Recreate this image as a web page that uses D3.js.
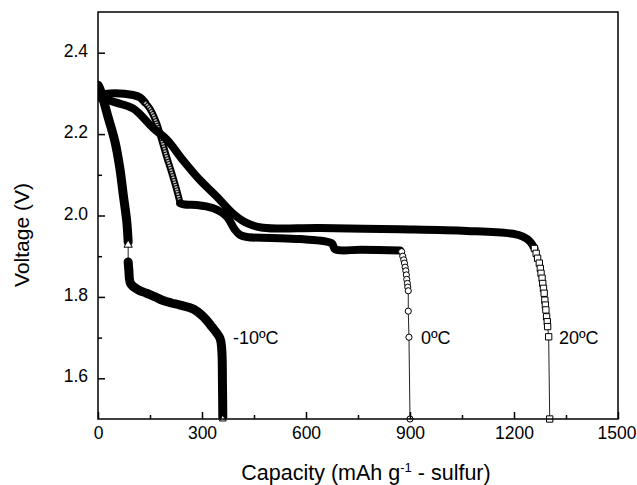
<!DOCTYPE html>
<html><head><meta charset="utf-8">
<script src="https://cdn.jsdelivr.net/npm/d3@7"></script>
<style>
html,body{margin:0;padding:0;background:#fff;}
text{font-family:"Liberation Sans",Arial,Helvetica,sans-serif;fill:#000;}
</style></head>
<body><svg id="c" width="637" height="485"></svg>
<script>
// ---- data ----
const xTicks = [0, 300, 600, 900, 1200, 1500];
const xMinor = [150, 450, 750, 1050, 1350];
const yTicks = [1.6, 1.8, 2.0, 2.2, 2.4];
const yMinor = [1.7, 1.9, 2.1, 2.3];
const seriesNames = ["-10ºC", "0ºC", "20ºC"];

// -10 ºC (triangles)
const capM10a  = [0, 6, 30, 49, 63, 73, 83, 87];
const voltM10a = [2.32, 2.31, 2.239, 2.181, 2.116, 2.05, 1.985, 1.935];
const capM10b  = [87, 89, 94, 115, 140, 165, 188, 212, 237, 275, 304, 328, 352, 357, 359, 360];
const voltM10b = [1.886, 1.866, 1.833, 1.818, 1.809, 1.800, 1.791, 1.785, 1.780, 1.770, 1.751, 1.727, 1.698, 1.670, 1.588, 1.505];
const capM10m  = [87, 360];
const voltM10m = [1.928, 1.5];

// 0 ºC (circles)
const cap0a  = [0, 35, 101, 121, 135];
const volt0a = [2.295, 2.300, 2.296, 2.290, 2.278];
const cap0b  = [135, 150, 169, 184, 198, 213, 227, 237];
const volt0b = [2.278, 2.262, 2.227, 2.185, 2.144, 2.104, 2.063, 2.030];
const cap0c  = [237, 250, 285, 333, 352, 372, 395, 410, 430, 500, 583, 674, 684, 760, 871];
const volt0c = [2.030, 2.027, 2.026, 2.018, 2.010, 1.997, 1.965, 1.952, 1.947, 1.945, 1.942, 1.932, 1.917, 1.916, 1.914];
const cap0m  = [876, 879, 882, 884, 886, 888, 889.5, 890.6, 892.5, 893.5, 895, 895, 897, 900];
const volt0m = [1.911, 1.900, 1.891, 1.883, 1.873, 1.864, 1.854, 1.843, 1.833, 1.824, 1.815, 1.765, 1.701, 1.5];

// 20 ºC (squares)
const cap20a  = [0, 50, 101, 159, 199, 245, 294, 343, 389, 430, 476, 640, 871, 1064, 1197, 1226, 1246, 1259];
const volt20a = [2.290, 2.278, 2.263, 2.215, 2.186, 2.136, 2.087, 2.046, 2.005, 1.981, 1.970, 1.969, 1.966, 1.962, 1.955, 1.948, 1.936, 1.919];
const cap20m  = [1259, 1264, 1268, 1273, 1276, 1278, 1281, 1283, 1285, 1287, 1289, 1290.5, 1292, 1294, 1296, 1297, 1300, 1303];
const volt20m = [1.919, 1.907, 1.895, 1.883, 1.870, 1.858, 1.846, 1.833, 1.821, 1.809, 1.792, 1.780, 1.768, 1.751, 1.739, 1.727, 1.702, 1.5];

// ---- chart ----
const svg = d3.select("#c");
const L = 98, R = 618, T = 12, B = 419;
const x = d3.scaleLinear().domain([0, 1500]).range([L, R]);
const y = d3.scaleLinear().domain([1.5, 2.5]).range([B, T]);
const zip = (a, b) => a.map((v, i) => [v, b[i]]);

svg.append("defs").append("clipPath").attr("id", "pc")
  .append("rect").attr("x", L).attr("y", T - 2).attr("width", R - L).attr("height", B - T + 2);

const band = d3.line().x(d => x(d[0])).y(d => y(d[1])).curve(d3.curveCatmullRom.alpha(0.5));
const thin = d3.line().x(d => x(d[0])).y(d => y(d[1]));

const g = svg.append("g").attr("clip-path", "url(#pc)");

function thickBand(cap, volt, w) {
  g.append("path").attr("d", band(zip(cap, volt))).attr("fill", "none")
    .attr("stroke", "#000").attr("stroke-width", w || 8)
    .attr("stroke-linejoin", "round").attr("stroke-linecap", "round");
}
function circleChain(cap, volt) {
  g.append("path").attr("d", band(zip(cap, volt))).attr("fill", "none")
    .attr("stroke", "#000").attr("stroke-width", 7).attr("stroke-linecap", "round");
  g.append("path").attr("d", band(zip(cap, volt))).attr("fill", "none")
    .attr("stroke", "#bbb").attr("stroke-width", 3).attr("stroke-dasharray", "1.5,1");
}
function thinLine(cap, volt) {
  g.append("path").attr("d", thin(zip(cap, volt))).attr("fill", "none")
    .attr("stroke", "#222").attr("stroke-width", 1);
}
function markers(cap, volt, type, size) {
  const sym = d3.symbol().type(type).size(size);
  svg.append("g").selectAll("path").data(zip(cap, volt)).join("path")
    .attr("transform", d => `translate(${x(d[0])},${y(d[1])})`)
    .attr("d", sym).attr("fill", "#fff").attr("stroke", "#000").attr("stroke-width", 1);
}

// -10 ºC
thinLine([capM10m[0], capM10b[0]], [voltM10m[0], voltM10b[0]]);
thickBand(capM10a, voltM10a, 9);
thickBand(capM10b, voltM10b, 9);
markers([capM10m[0]], [voltM10m[0]], d3.symbolTriangle, 30);
markers([capM10m[1]], [voltM10m[1]], d3.symbolTriangle, 20);

// 0 ºC
thickBand(cap0a, volt0a, 8);
circleChain(cap0b, volt0b);
thickBand(cap0c, volt0c, 8);
thinLine([cap0c[cap0c.length - 1]].concat(cap0m), [volt0c[volt0c.length - 1]].concat(volt0m));
markers(cap0m, volt0m, d3.symbolCircle, 30);

// 20 ºC
thickBand(cap20a, volt20a, 8);
thinLine(cap20m, volt20m);
markers(cap20m, volt20m, d3.symbolSquare, 40);

// series labels
const lab = svg.append("g").attr("font-size", 18);
lab.append("text").attr("x", 233).attr("y", y(1.7)).attr("dy", "0.35em").text(seriesNames[0]);
lab.append("text").attr("x", 421).attr("y", y(1.7)).attr("dy", "0.35em").text(seriesNames[1]);
lab.append("text").attr("x", 559).attr("y", y(1.7)).attr("dy", "0.35em").text(seriesNames[2]);

// axes
const xa = svg.append("g").attr("transform", `translate(0,${B})`)
  .call(d3.axisBottom(x).tickValues(xTicks).tickSizeInner(-7).tickSizeOuter(0).tickPadding(8).tickFormat(d3.format("d")));
svg.append("g").attr("transform", `translate(0,${B})`)
  .call(d3.axisBottom(x).tickValues(xMinor).tickSizeInner(-4).tickSizeOuter(0).tickFormat(""));
const ya = svg.append("g").attr("transform", `translate(${L},0)`)
  .call(d3.axisLeft(y).tickValues(yTicks).tickSizeInner(-7).tickSizeOuter(0).tickPadding(10).tickFormat(d3.format(".1f")));
ya.selectAll(".tick text").attr("dy", "0.2em");
svg.append("g").attr("transform", `translate(${L},0)`)
  .call(d3.axisLeft(y).tickValues(yMinor).tickSizeInner(-4).tickSizeOuter(0).tickFormat(""));
svg.selectAll(".domain").remove();
svg.selectAll(".tick line").attr("stroke", "#000").attr("stroke-width", 1.5);
svg.selectAll(".tick text").attr("font-size", 17.5).attr("font-family", "Liberation Sans, Arial, sans-serif").attr("fill", "#000");
// keep the last x label inside the page
xa.selectAll(".tick").filter(d => d === 1500).select("text")
  .attr("text-anchor", "end").attr("x", 636 - R);

svg.append("rect").attr("x", L).attr("y", T).attr("width", R - L).attr("height", B - T)
  .attr("fill", "none").attr("stroke", "#000").attr("stroke-width", 1.5);

// titles
const xt = svg.append("text").attr("x", 366).attr("y", 480).attr("text-anchor", "middle").attr("font-size", 21.5);
xt.append("tspan").text("Capacity (mAh g");
xt.append("tspan").attr("font-size", 13).attr("dy", -8).text("-1");
xt.append("tspan").attr("dy", 8).text(" - sulfur)");
svg.append("text").attr("transform", `translate(29,235) rotate(-90)`)
  .attr("text-anchor", "middle").attr("font-size", 21).text("Voltage (V)");
</script></body></html>
